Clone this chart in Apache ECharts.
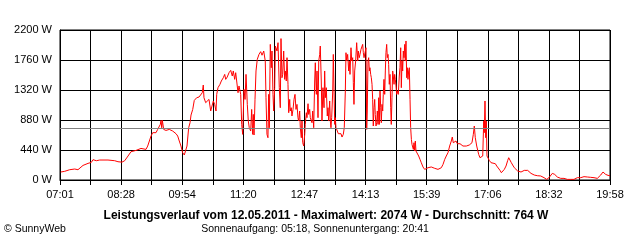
<!DOCTYPE html>
<html>
<head>
<meta charset="utf-8">
<script src="https://cdn.jsdelivr.net/npm/echarts@6/dist/echarts.min.js"></script>
<style>
html,body{margin:0;padding:0;background:#fff;}
#c{width:640px;height:240px;}
</style>
</head>
<body>
<div id="c"></div>
<script>
// Time labels on the x axis (each two grid intervals)
const tickLabels = ['07:01','08:28','09:54','11:20','12:47','14:13','15:39','17:06','18:32','19:58'];
const spanMinutes = 777; // 07:01 .. 19:58
// y-axis
const yMax = 2200;
const yStep = 440;
// Texts
const titleText = 'Leistungsverlauf vom 12.05.2011 - Maximalwert: 2074 W - Durchschnitt: 764 W';
const subText = 'Sonnenaufgang: 05:18, Sonnenuntergang: 20:41';
const creditText = '\u00A9 SunnyWeb';
const avgW = 764;

// minutes after 07:01
const minutes = [
1.0,6.6,13.7,20.8,25.4,32.5,39.6,44.2,46.6,51.3,56.1,67.8,77.3,81.9,87.6,91.4,95.1,
100.3,102.7,107.4,114.4,116.8,121.5,123.9,128.6,131.0,135.6,138.0,140.3,141.7,142.7,143.7,144.6,146.5,148.3,149.7,154.4,159.2,163.9,166.3,168.5,170.9,173.3,175.6,178.0,179.4,181.8,183.7,185.1,187.5,189.7,
191.7,193.1,195.0,196.4,198.8,201.0,202.4,203.4,205.8,208.1,210.5,212.9,215.2,216.6,218.5,220.4,221.4,223.2,226.0,227.9,230.7,232.7,234.1,236.3,238.8,241.2,243.4,244.8,246.8,248.2,249.6,251.5,252.9,255.3,256.7,258.1,259.9,261.4,262.8,264.6,266.0,267.4,269.4,270.8,272.2,273.1,274.1,275.5,276.9,278.7,281.1,283.5,
285.4,287.8,289.2,290.0,291.0,292.4,293.8,294.8,295.7,297.1,298.5,299.5,300.9,301.9,303.3,304.2,306.6,308.0,309.0,309.8,311.2,312.2,313.6,314.6,316.0,317.4,318.3,319.7,320.7,322.1,323.1,324.5,325.3,326.7,327.7,329.2,330.6,332.0,333.4,334.8,336.2,337.2,338.6,339.5,340.9,341.9,342.9,344.3,345.7,346.5,348.0,348.9,350.4,351.3,352.7,353.6,355.0,356.0,357.0,358.4,359.8,360.7,362.1,363.1,364.5,365.5,366.9,367.7,369.1,370.1,371.5,373.0,373.9,374.8,376.2,377.6,378.6,379.6,381.0,381.9,382.8,383.8,385.3,386.1,387.1,388.1,388.9,389.9,390.9,391.8,393.2,395.6,397.0,398.4,400.2,401.6,
403.1,404.0,405.0,406.4,407.8,408.7,409.7,411.1,412.1,413.5,414.4,415.3,416.3,417.7,419.1,420.6,421.4,422.8,423.8,425.2,426.6,427.6,428.5,429.5,430.9,432.3,433.3,434.1,435.1,436.1,437.0,437.9,438.9,439.8,440.8,441.7,442.6,443.6,444.6,445.4,446.4,447.4,448.3,449.3,450.2,451.1,452.1,453.1,453.9,454.9,455.9,456.7,457.7,458.7,459.6,460.5,461.5,462.4,463.4,464.3,465.2,466.2,467.2,468.0,469.0,470.0,470.9,471.9,472.8,473.7,474.7,475.6,476.5,477.9,479.3,
480.3,481.3,482.2,483.2,484.1,485.0,486.0,487.0,487.8,488.8,489.8,490.6,491.6,492.6,493.5,494.5,495.4,496.4,497.3,498.3,499.2,500.1,501.1,502.0,502.9,504.8,506.7,508.6,510.4,512.8,515.2,517.5,519.9,522.3,524.5,529.4,534.0,536.4,538.7,541.1,543.5,545.7,548.1,550.5,552.8,554.2,555.6,557.6,559.4,561.3,563.3,565.1,566.9,569.3,571.7,574.0,
576.0,578.2,580.6,582.0,583.9,585.3,586.7,588.7,591.5,593.3,595.2,597.2,598.6,599.4,600.4,601.4,602.3,603.2,605.1,606.5,608.9,611.3,615.0,617.0,619.2,621.6,623.5,625.4,627.7,630.1,632.5,633.9,635.7,637.6,639.5,641.8,644.2,646.6,648.9,651.3,653.7,655.9,658.3,660.7,663.0,665.4,667.8,670.0,
674.3,679.1,683.8,687.6,690.8,695.5,698.9,702.6,707.4,712.0,716.7,721.5,726.1,728.5,730.8,735.6,740.3,745.0,747.3,749.7,754.4,759.1,763.9,767.1,770.9,774.2,777.0
];
// power in W
const watts = [
117,127,151,161,151,214,244,258,298,283,293,293,283,268,262,283,337,
415,434,434,463,449,449,498,645,694,694,742,767,815,874,767,874,742,742,727,742,718,679,645,572,498,400,367,375,498,767,840,953,1035,1167,
1182,1207,1182,1217,1197,1280,1393,1207,1134,1109,1182,1012,987,1159,1109,1012,1256,1354,1403,1452,1500,1549,1476,1511,1574,1608,1525,1599,1476,1574,1452,1280,1379,1256,815,669,1329,1182,1549,1109,865,767,718,1035,669,962,660,1182,1599,1769,1842,1882,
1830,1892,1916,1745,1207,669,620,1256,767,1989,1647,1892,1256,1012,1354,1965,1892,2014,1989,1354,1060,2074,1500,1549,1892,1476,1599,1452,1794,1403,987,1182,1012,1060,939,1035,1182,1256,1035,1109,914,865,1012,767,620,865,547,498,669,815,987,914,1119,962,1035,914,939,840,1012,767,1452,1720,1256,1599,914,1745,1842,1965,1452,865,1354,1060,1599,1207,1354,939,1060,865,1159,865,767,914,1305,1842,1818,815,914,767,792,718,679,660,679,630,669,767,
1305,1867,1745,1842,1599,1745,1549,1940,1745,1794,1427,1109,1599,1745,2014,1745,1892,1794,1842,1916,1940,1989,1867,1794,1794,1940,742,1012,1745,1794,1599,1647,1549,1500,1403,1182,792,1060,1182,962,792,840,1012,815,1207,815,1305,1060,840,1109,1012,1256,1476,1256,1599,1867,1989,1794,1842,1696,1403,1549,1060,815,1207,1599,1525,1403,1549,1476,1379,1256,1305,1256,1525,
1647,1940,1354,1745,1599,1892,1794,1989,1745,2039,1500,1647,1476,1599,1647,1182,767,595,522,498,449,547,425,572,425,400,352,302,254,191,156,166,180,191,191,171,156,156,180,229,302,352,400,498,572,630,547,522,572,532,547,532,513,498,484,498,
513,513,498,547,669,792,620,498,375,327,337,352,865,694,1159,620,865,352,327,287,254,239,239,205,180,141,107,132,156,205,287,327,302,254,220,180,156,132,122,117,132,141,166,141,122,97,82,73,
63,59,34,9,34,97,82,44,24,24,9,9,9,24,34,34,49,44,49,39,34,24,73,117,82,68,63
];

const chart = echarts.init(document.getElementById('c'), null, {renderer: 'canvas'});
const seriesData = minutes.map((m, i) => [m, watts[i]]);
const labelStep = spanMinutes / (tickLabels.length - 1);
const FONT = 'Liberation Sans, Arial, sans-serif';

chart.setOption({
  animation: false,
  backgroundColor: '#ffffff',
  grid: {left: 60, right: 30, top: 30, bottom: 60, show: true, borderColor: '#000', borderWidth: 1, backgroundColor: 'transparent'},
  xAxis: {
    type: 'value', min: 0, max: spanMinutes, interval: spanMinutes / 18,
    axisLine: {show: true, lineStyle: {color: '#000', width: 1}},
    axisTick: {show: true, length: 5, lineStyle: {color: '#000'}},
    splitLine: {show: true, lineStyle: {color: '#000', width: 1}},
    axisLabel: {
      color: '#000', fontSize: 11, fontFamily: FONT, margin: 9, showMaxLabel: true, showMinLabel: true,
      formatter: function (v) {
        const k = Math.round(v / labelStep);
        if (Math.abs(v - k * labelStep) < 0.5 && k >= 0 && k < tickLabels.length) return tickLabels[k];
        return '';
      }
    }
  },
  yAxis: {
    type: 'value', min: 0, max: yMax, interval: yStep,
    axisLine: {show: true, lineStyle: {color: '#000', width: 1}},
    axisTick: {show: false},
    splitLine: {show: true, lineStyle: {color: '#000', width: 1}},
    axisLabel: {color: '#000', fontSize: 11, fontFamily: FONT, margin: 8, formatter: function (v) { return String(v) + ' W'; }}
  },
  series: [{
    type: 'line', data: seriesData, showSymbol: false, symbol: 'none',
    lineStyle: {color: '#ff0000', width: 1}, itemStyle: {color: '#ff0000'},
    z: 3,
    markLine: {
      silent: true, symbol: ['none', 'none'], animation: false,
      label: {show: false},
      lineStyle: {color: '#808080', type: 'solid', width: 1},
      data: [{yAxis: avgW}]
    }
  }],
  graphic: [
    {type: 'text', x: 326, y: 216, style: {text: titleText, fill: '#000', font: 'bold 12px ' + FONT, textAlign: 'center', textVerticalAlign: 'middle'}},
    {type: 'text', x: 315, y: 229, style: {text: subText, fill: '#000', font: '10.5px ' + FONT, textAlign: 'center', textVerticalAlign: 'middle'}},
    {type: 'text', x: 4, y: 229, style: {text: creditText, fill: '#000', font: '10.5px ' + FONT, textAlign: 'left', textVerticalAlign: 'middle'}}
  ]
});
</script>
</body>
</html>
